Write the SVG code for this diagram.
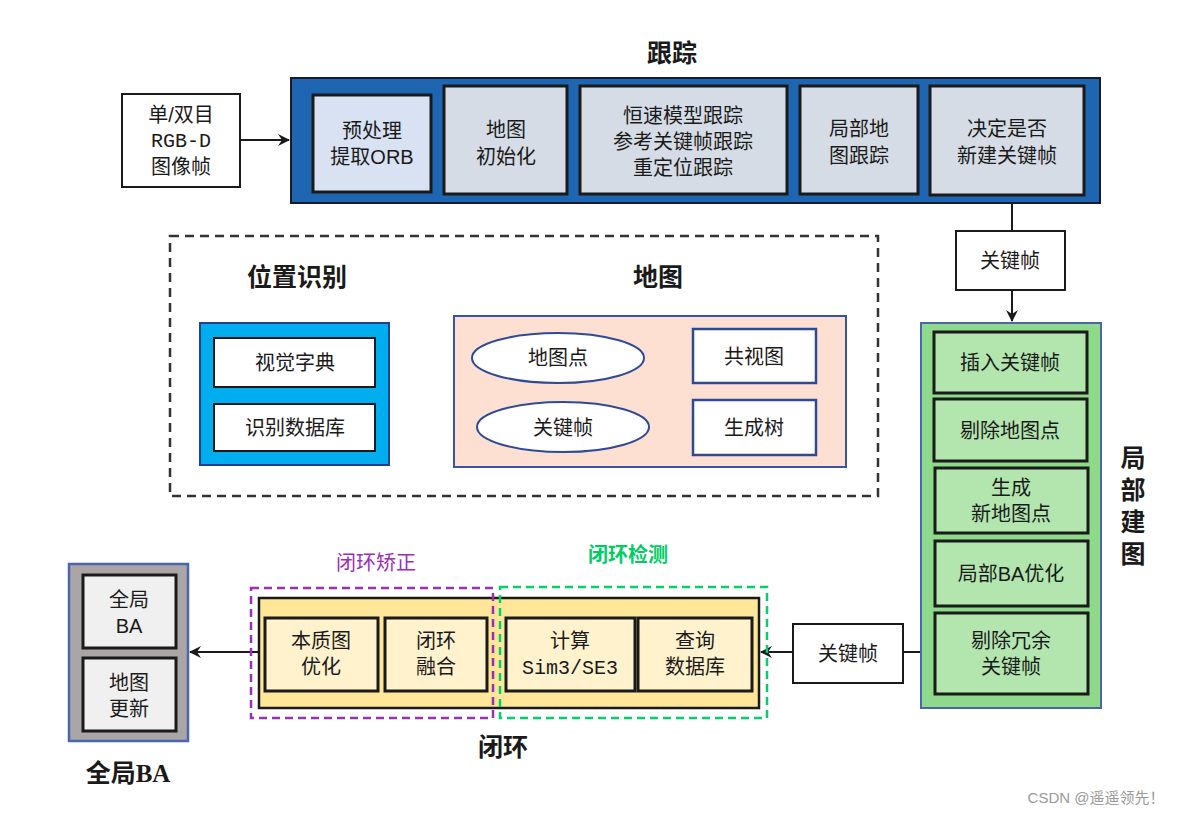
<svg xmlns="http://www.w3.org/2000/svg" width="1190" height="815" viewBox="0 0 1190 815">
<defs>
<style>
text{font-family:"Liberation Sans","Noto Sans CJK SC",sans-serif;fill:#1a1a1a;text-anchor:middle;dominant-baseline:central}
tspan{dominant-baseline:central}
.t{font-size:20px}
.mono{font-family:"Liberation Mono","Noto Sans CJK SC",monospace;font-size:20px}
.h{font-size:25px;font-weight:bold}
.ib{stroke:#1a1a1a;stroke-width:3}
.wb{fill:#ffffff;stroke:#1a1a1a;stroke-width:2}
.ln{stroke:#1a1a1a;stroke-width:2;fill:none}
</style>
<marker id="ah" viewBox="0 0 12 12" refX="11" refY="6" markerWidth="12" markerHeight="12" markerUnits="userSpaceOnUse" orient="auto">
<path d="M0,0 L12,6 L0,12 L4,6 Z" fill="#1a1a1a"/>
</marker>
</defs>
<rect width="1190" height="815" fill="#ffffff"/>

<g id="connectors">
<line class="ln" x1="240" y1="140" x2="289" y2="140" marker-end="url(#ah)"/>
<line class="ln" x1="1012" y1="203" x2="1012" y2="231"/>
<line class="ln" x1="1012" y1="290" x2="1012" y2="321" marker-end="url(#ah)"/>
<line class="ln" x1="921" y1="652" x2="903" y2="652"/>
<line class="ln" x1="793" y1="652" x2="761" y2="652" marker-end="url(#ah)"/>
<line class="ln" x1="258" y1="652" x2="190" y2="652" marker-end="url(#ah)"/>
</g>

<g id="input">
<rect class="wb" x="122" y="94" width="118" height="93"/>
<text class="t" x="181" y="115">单/双目<tspan class="mono" x="181" dy="26">RGB-D</tspan><tspan x="181" dy="26">图像帧</tspan></text>
</g>

<g id="tracking">
<text class="h" x="672" y="53">跟踪</text>
<rect x="291" y="78" width="809" height="125" fill="#1f66b2" stroke="#1a1a2a" stroke-width="2"/>
<g id="preprocess">
<rect class="ib" x="313" y="95" width="118" height="97" fill="#d9e2f3"/>
<text class="t" x="372" y="131">预处理<tspan x="372" dy="26">提取ORB</tspan></text>
</g>
<g id="mapinit">
<rect class="ib" x="444" y="86" width="123" height="108" fill="#d6dce5"/>
<text class="t" x="506" y="130">地图<tspan x="506" dy="27">初始化</tspan></text>
</g>
<g id="tracktypes">
<rect class="ib" x="580" y="86" width="207" height="108" fill="#d6dce5"/>
<text class="t" x="683" y="116">恒速模型跟踪<tspan x="683" dy="26">参考关键帧跟踪</tspan><tspan x="683" dy="26">重定位跟踪</tspan></text>
</g>
<g id="localmaptrack">
<rect class="ib" x="800" y="86" width="118" height="108" fill="#d6dce5"/>
<text class="t" x="859" y="129">局部地<tspan x="859" dy="27">图跟踪</tspan></text>
</g>
<g id="decide">
<rect class="ib" x="930" y="86" width="154" height="109" fill="#d6dce5"/>
<text class="t" x="1007" y="129">决定是否<tspan x="1007" dy="27">新建关键帧</tspan></text>
</g>
</g>

<g id="kf-top">
<rect class="wb" x="956" y="231" width="109" height="59"/>
<text class="t" x="1010" y="261">关键帧</text>
</g>

<g id="mapping-area">
<rect x="170" y="236" width="708" height="260" fill="none" stroke="#333333" stroke-width="2.5" stroke-dasharray="9,6"/>
<text class="h" x="297" y="277">位置识别</text>
<text class="h" x="658" y="277">地图</text>
</g>

<g id="placerec">
<rect x="200" y="323" width="189" height="142" fill="#00aeef" stroke="#233f8f" stroke-width="2"/>
<rect class="wb" x="214" y="338" width="161" height="49" stroke="#1f2a55"/>
<text class="t" x="295" y="363">视觉字典</text>
<rect class="wb" x="214" y="404" width="161" height="47" stroke="#1f2a55"/>
<text class="t" x="295" y="428">识别数据库</text>
</g>

<g id="map">
<rect x="454" y="316" width="392" height="151" fill="#fde0d1" stroke="#3a55a0" stroke-width="2"/>
<ellipse cx="558" cy="358" rx="86" ry="25" fill="#ffffff" stroke="#2e4a96" stroke-width="2"/>
<text class="t" x="558" y="358">地图点</text>
<ellipse cx="563" cy="427" rx="86" ry="25" fill="#ffffff" stroke="#2e4a96" stroke-width="2"/>
<text class="t" x="563" y="428">关键帧</text>
<rect x="693" y="329" width="123" height="54" fill="#ffffff" stroke="#2e4a96" stroke-width="2.5"/>
<text class="t" x="754" y="357">共视图</text>
<rect x="693" y="400" width="123" height="55" fill="#ffffff" stroke="#2e4a96" stroke-width="2.5"/>
<text class="t" x="754" y="428">生成树</text>
</g>

<g id="localmapping">
<rect x="921" y="323" width="180" height="385" fill="#8fd98b" stroke="#4a66a8" stroke-width="2"/>
<rect class="ib" x="934" y="332" width="153" height="61" fill="#b2e6ae"/>
<text class="t" x="1010" y="363">插入关键帧</text>
<rect class="ib" x="934" y="399" width="153" height="62" fill="#b2e6ae"/>
<text class="t" x="1010" y="431">剔除地图点</text>
<rect class="ib" x="935" y="468" width="153" height="65" fill="#b2e6ae"/>
<text class="t" x="1011" y="488">生成<tspan x="1011" dy="26">新地图点</tspan></text>
<rect class="ib" x="935" y="541" width="153" height="65" fill="#b2e6ae"/>
<text class="t" x="1011" y="574">局部BA优化</text>
<rect class="ib" x="935" y="613" width="153" height="81" fill="#b2e6ae"/>
<text class="t" x="1011" y="641">剔除冗余<tspan x="1011" dy="26">关键帧</tspan></text>
<text class="h" x="1131" y="509" writing-mode="vertical-rl" letter-spacing="7" style="dominant-baseline:auto">局部建图</text>
</g>

<g id="kf-bottom">
<rect class="wb" x="793" y="624" width="110" height="59"/>
<text class="t" x="848" y="654">关键帧</text>
</g>

<g id="loopclosing">
<rect x="259" y="598" width="500" height="110" fill="#ffe699" stroke="#1a1a1a" stroke-width="2.5"/>
<rect class="ib" x="265" y="618" width="113" height="73" fill="#fff2cc"/>
<text class="t" x="321" y="641">本质图<tspan x="321" dy="26">优化</tspan></text>
<rect class="ib" x="385" y="618" width="102" height="73" fill="#fff2cc"/>
<text class="t" x="436" y="641">闭环<tspan x="436" dy="26">融合</tspan></text>
<rect class="ib" x="506" y="618" width="129" height="73" fill="#fff2cc"/>
<text class="t" x="570" y="641">计算<tspan class="mono" x="570" dy="27">Sim3/SE3</tspan></text>
<rect class="ib" x="638" y="618" width="114" height="73" fill="#fff2cc"/>
<text class="t" x="695" y="641">查询<tspan x="695" dy="26">数据库</tspan></text>
<rect x="251" y="588" width="242" height="130" fill="none" stroke="#9b2fb5" stroke-width="2.5" stroke-dasharray="8,5"/>
<rect x="500" y="587" width="267" height="131" fill="none" stroke="#00d26a" stroke-width="2.5" stroke-dasharray="8,5"/>
<text x="376" y="563" font-size="20" style="fill:#9b2fb5">闭环矫正</text>
<text x="628" y="555" font-size="20" font-weight="bold" style="fill:#00cc66">闭环检测</text>
<text class="h" x="503" y="747">闭环</text>
</g>

<g id="globalba">
<rect x="69" y="564" width="119" height="177" fill="#aba5a6" stroke="#4a66ad" stroke-width="2.5"/>
<rect class="ib" x="83" y="575" width="93" height="73" fill="#f0f0f0"/>
<text class="t" x="129" y="600">全局<tspan x="129" dy="26">BA</tspan></text>
<rect class="ib" x="83" y="658" width="93" height="73" fill="#f0f0f0"/>
<text class="t" x="129" y="683">地图<tspan x="129" dy="26">更新</tspan></text>
<text class="h" x="128" y="773">全局<tspan font-family="Liberation Serif,serif">BA</tspan></text>
</g>

<text x="1096" y="797" font-size="15" style="fill:#9a9a9a">CSDN @遥遥领先！</text>
</svg>
